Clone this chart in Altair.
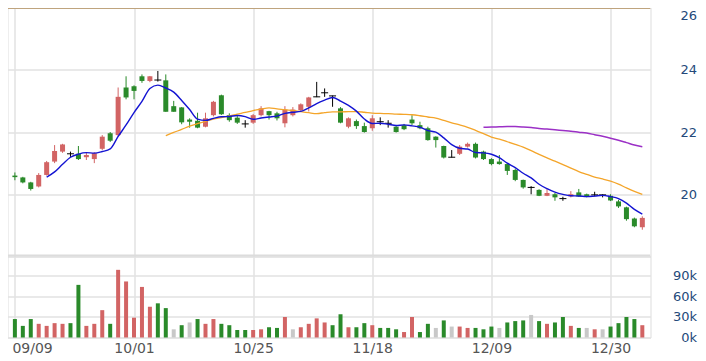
import altair as alt
import pandas as pd

# ---- data (index 0 = 09/09) ----
opens = [20.60, 20.54, 20.38, 20.25, 20.62, 21.05, 21.37, 21.30, 21.30, 21.19,
         21.13, 21.46, 21.96, 21.90, 23.43, 23.47, 23.79, 23.64, 23.67, 23.66,
         22.83, 22.79, 22.40, 22.36, 22.17, 22.54, 23.18, 22.54, 22.46, 22.26,
         22.30, 22.54, 22.67, 22.60, 22.28, 22.54, 22.70, 22.81, 23.13, 23.26,
         23.16, 22.76, 22.17, 22.35, 22.19, 22.12, 22.33, 22.28, 22.17, 22.22,
         22.40, 22.22, 22.12, 21.85, 21.55, 21.19, 21.30, 21.53, 21.62, 21.37,
         21.13, 21.05, 20.97, 20.78, 20.46, 20.22, 20.14, 19.95, 20.00, 19.86,
         19.93, 20.06, 20.00, 19.98, 19.98, 19.95, 19.77, 19.58, 19.22, 18.94]
highs = [20.70, 20.56, 20.40, 20.68, 21.07, 21.58, 21.62, 21.37, 21.55, 21.33,
         21.35, 21.90, 22.00, 23.43, 23.79, 23.50, 23.85, 23.80, 23.96, 23.85,
         23.00, 22.80, 22.44, 22.62, 22.62, 23.00, 23.20, 22.60, 22.54, 22.38,
         22.58, 22.83, 22.68, 22.65, 22.83, 22.80, 22.92, 23.13, 23.61, 23.40,
         23.17, 22.80, 22.47, 22.40, 22.30, 22.54, 22.47, 22.38, 22.20, 22.26,
         22.54, 22.33, 22.17, 21.86, 21.56, 21.42, 21.58, 21.66, 21.66, 21.40,
         21.16, 21.26, 21.00, 20.82, 20.47, 20.26, 20.16, 20.17, 20.04, 19.92,
         20.10, 20.17, 20.02, 20.08, 20.00, 20.00, 19.82, 19.60, 19.25, 19.29]
lows = [20.45, 20.35, 20.12, 20.22, 20.60, 21.00, 21.33, 21.20, 21.10, 21.10,
        21.00, 21.42, 21.68, 21.85, 23.05, 23.05, 23.58, 23.60, 23.62, 22.65,
        22.65, 22.25, 22.14, 22.12, 22.15, 22.50, 22.55, 22.33, 22.26, 22.14,
        22.26, 22.50, 22.40, 22.37, 22.15, 22.50, 22.66, 22.66, 23.12, 23.13,
        22.81, 22.28, 22.12, 22.10, 21.98, 22.04, 22.22, 22.14, 21.98, 22.06,
        22.22, 22.09, 21.72, 21.50, 21.15, 21.18, 21.26, 21.50, 21.15, 21.10,
        20.93, 20.95, 20.62, 20.42, 20.18, 20.00, 19.94, 19.94, 19.79, 19.79,
        19.90, 19.92, 19.90, 19.93, 19.90, 19.78, 19.56, 19.15, 18.94, 18.86]
closes = [20.55, 20.38, 20.17, 20.62, 21.03, 21.39, 21.60, 21.30, 21.13, 21.26,
          21.32, 21.85, 21.72, 23.13, 23.11, 23.32, 23.64, 23.79, 23.67, 22.65,
          22.65, 22.31, 22.33, 22.14, 22.44, 22.97, 22.57, 22.38, 22.30, 22.26,
          22.54, 22.76, 22.54, 22.44, 22.72, 22.72, 22.89, 23.11, 23.13, 23.26,
          23.16, 22.30, 22.44, 22.19, 22.00, 22.44, 22.33, 22.28, 22.00, 22.09,
          22.28, 22.12, 21.74, 21.74, 21.18, 21.19, 21.53, 21.62, 21.18, 21.13,
          20.97, 20.97, 20.75, 20.46, 20.22, 20.22, 19.95, 20.04, 19.90, 19.86,
          20.00, 19.93, 19.93, 19.98, 19.98, 19.80, 19.61, 19.20, 18.97, 19.24]
volumes = [27, 17, 27, 20, 17, 21, 20, 21, 77, 17,
           20, 40, 20, 99, 82, 29, 74, 45, 50, 43,
           12, 18, 22, 27, 20, 27, 20, 18, 11, 11,
           11, 12, 15, 14, 30, 12, 15, 20, 28, 22,
           18, 34, 15, 15, 21, 18, 14, 14, 12, 8,
           30, 8, 20, 14, 25, 16, 16, 14, 14, 12,
           16, 14, 22, 24, 25, 33, 24, 20, 22, 30,
           17, 14, 14, 12, 12, 16, 21, 30, 27, 18]   # thousands
vol_dir = list("dddu" "uuud" "duuu" "duuu" "uudd"
               "ndnd" "uudd" "dduu" "ddun" "uuuu"
               "ddud" "dudd" "duud" "dndn" "uudd"
               "dndd" "dndu" "ddud" "nund" "dddu")
tick_idx = [0, 15, 30, 45, 60, 75]
tick_labels = ["09/09", "10/01", "10/25", "11/18", "12/09", "12/30"]
price_ticks = [20, 22, 24, 26]
vol_ticks = [0, 30, 60, 90]

# ---- styling ----
UP, DOWN, DOJI, FLAT = "#d26464", "#2a8a2a", "#000000", "#c8c8c8"
GRID = "#e2e2e2"
YLAB = "#24497a"
FONT = "DejaVu Sans"

n = len(closes)
df = pd.DataFrame({"idx": list(range(n)), "open": opens, "high": highs,
                   "low": lows, "close": closes, "vol": volumes})
df["ccol"] = [UP if c > o else (DOWN if c < o else DOJI) for o, c in zip(opens, closes)]
df["vcol"] = [{"u": UP, "d": DOWN, "n": FLAT}[d] for d in vol_dir]

xscale = alt.Scale(domain=[-0.3, 79.4], nice=False, zero=False)
label_expr = " : ".join(f"datum.value == {i} ? '{t}'" for i, t in zip(tick_idx, tick_labels)) + " : ''"

x_price_axis = alt.Axis(values=tick_idx, labels=False, ticks=False, domain=False,
                        grid=True, gridColor=GRID, gridWidth=1.5)
x_vol_axis = alt.Axis(values=tick_idx, labelExpr=label_expr, ticks=False, domain=False,
                      grid=True, gridColor=GRID, gridWidth=1.5, labelFlush=False,
                      labelAlign={"condition": {"test": f"datum.value == {tick_idx[0]}", "value": "left"},
                                  "value": "center"},
                      labelOffset={"condition": {"test": f"datum.value == {tick_idx[0]}", "value": -3},
                                   "value": 0},
                      labelColor="#555555", labelFontSize=14, labelFont=FONT,
                      labelPadding=4)

yscale = alt.Scale(domain=[18, 26], nice=False, zero=False)
yax = alt.Axis(orient="right", values=price_ticks, grid=True, gridColor=GRID, gridWidth=1.5,
               ticks=False, domain=False, labelAlign="right", labelPadding=46,
               labelFlush=False,
               labelBaseline={"condition": {"test": f"datum.value == {price_ticks[-1]}", "value": "top"},
                              "value": "middle"},
               labelOffset={"condition": {"test": f"datum.value == {price_ticks[-1]}", "value": 2},
                            "value": 0},
               labelColor=YLAB, labelFontSize=13, labelFont=FONT)

base = alt.Chart(df)
X = alt.X("idx:Q", scale=xscale, axis=x_price_axis, title=None)

wicks = base.mark_rule(strokeWidth=1).encode(
    x=X, y=alt.Y("low:Q", scale=yscale, axis=yax, title=None), y2="high:Q",
    color=alt.Color("ccol:N", scale=None))
bodies = base.transform_filter("datum.open != datum.close").mark_bar(size=5).encode(
    x=X, y=alt.Y("open:Q", scale=yscale, axis=yax, title=None), y2="close:Q",
    color=alt.Color("ccol:N", scale=None))
dojis = base.transform_filter("datum.open == datum.close").mark_tick(
    orient="horizontal", size=7, thickness=1, color=DOJI, opacity=1).encode(
    x=X, y=alt.Y("close:Q", scale=yscale, axis=yax, title=None))

top_line = alt.Chart(pd.DataFrame({"y": [26]})).mark_rule(
    color="#bfa47e", strokeWidth=3, clip=True).encode(
    y=alt.Y("y:Q", scale=yscale, axis=yax, title=None))
sep_line = alt.Chart(pd.DataFrame({"y": [18]})).mark_rule(
    color="#dcdcdc", strokeWidth=4, clip=True).encode(
    y=alt.Y("y:Q", scale=yscale, axis=yax, title=None))


def ma_line(k, color, width):
    return base.transform_window(
        frame=[-(k - 1), 0], sort=[alt.SortField("idx")],
        ma="mean(close)", cnt="count()"
    ).transform_filter(f"datum.cnt >= {k}").mark_line(
        color=color, strokeWidth=width, interpolate="monotone").encode(
        x=X, y=alt.Y("ma:Q", scale=yscale, axis=yax, title=None))


price = alt.layer(
    top_line, sep_line, wicks, bodies, dojis,
    ma_line(60, "#9b30c6", 1.5),
    ma_line(20, "#f4a52a", 1.3),
    ma_line(5, "#1414d2", 1.4),
).properties(width=643, height=249)

vol = alt.Chart(df).mark_bar(size=4).encode(
    x=alt.X("idx:Q", scale=xscale, axis=x_vol_axis, title=None),
    y=alt.Y("vol:Q", scale=alt.Scale(domain=[0, 118.5], nice=False),
            axis=alt.Axis(orient="right", values=vol_ticks, labelExpr="datum.value + 'k'",
                          grid=True, gridColor=GRID, gridWidth=1.5, ticks=False, domain=False,
                          labelFlush=False,
                          labelAlign="right", labelPadding=46, labelColor=YLAB,
                          labelFontSize=13, labelFont=FONT),
            title=None),
    color=alt.Color("vcol:N", scale=None),
).properties(width=643, height=81)

chart = alt.vconcat(price, vol, spacing=0, bounds="flush").properties(
    padding={"left": -1.5, "top": -1.5, "right": 0, "bottom": 0}
).configure_view(strokeWidth=0).configure(font=FONT)

chart.save("out.html", embed_options={"renderer": "svg", "actions": False})
